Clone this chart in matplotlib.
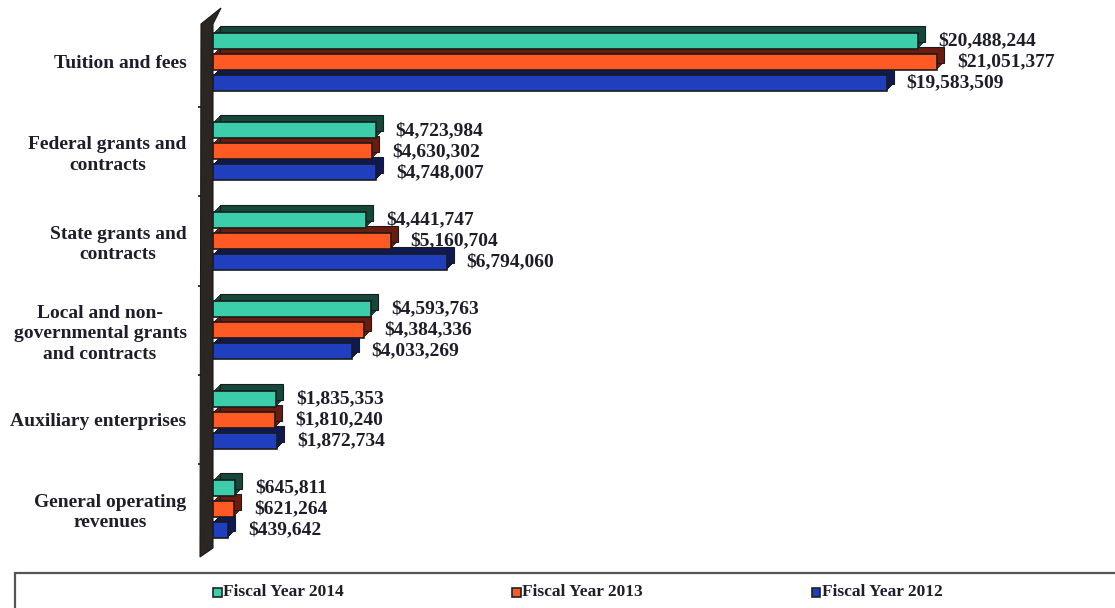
import matplotlib
matplotlib.use("Agg")
import matplotlib.pyplot as plt
import matplotlib.transforms as mtransforms
from matplotlib.patches import Polygon, Rectangle
import numpy as np

plt.rcParams['font.family'] = ['Liberation Serif', 'DejaVu Serif']
plt.rcParams['font.weight'] = 'bold'

categories = [
    "Tuition and fees",
    "Federal grants and\ncontracts",
    "State grants and\ncontracts",
    "Local and non-\ngovernmental grants\nand contracts",
    "Auxiliary enterprises",
    "General operating\nrevenues",
]
series_names = ["Fiscal Year 2014", "Fiscal Year 2013", "Fiscal Year 2012"]
fy2014 = [20488244, 4723984, 4441747, 4593763, 1835353, 645811]
fy2013 = [21051377, 4630302, 5160704, 4384336, 1810240, 621264]
fy2012 = [19583509, 4748007, 6794060, 4033269, 1872734, 439642]

front_colors = ["#3ccdaa", "#ff5a23", "#1f3fbe"]
depth_colors = ["#15473a", "#6a1c0e", "#0f1a55"]
edge_dark = "#1b1b1b"

W, H, DPI = 1115, 608, 100
fig = plt.figure(figsize=(W / DPI, H / DPI), dpi=DPI)

# axes box in pixels
ax_left, ax_right = 213, 1105
ax_top, ax_bottom = 17.3, 553.7
ax = fig.add_axes([ax_left / W, (H - ax_bottom) / H,
                   (ax_right - ax_left) / W, (ax_bottom - ax_top) / H])

px_per_million = 34.4
ax.set_xlim(0, (ax_right - ax_left) / px_per_million * 1e6)
ax.set_ylim(len(categories) - 0.5, -0.5)

y = np.arange(len(categories))
bar_h = 0.18
offsets = [-0.235, 0.0, 0.235]
series = [fy2014, fy2013, fy2012]
depth_px = 7

# draw back series first so upper bars sit in front of lower bars' extrusion
for idx in [2, 1, 0]:
    vals = series[idx]
    ypos = y + offsets[idx]
    for k in range(1, depth_px + 1):
        tr = ax.transData + mtransforms.ScaledTranslation(
            k / DPI, k / DPI, fig.dpi_scale_trans)
        bars = ax.barh(ypos, vals, height=bar_h, color=depth_colors[idx],
                       edgecolor=edge_dark if k == depth_px else "none",
                       linewidth=0.8, transform=tr, zorder=3 + (2 - idx) * 2)
        for b in bars:
            b.set_clip_on(False)
    bars = ax.barh(ypos, vals, height=bar_h, color=front_colors[idx],
                   edgecolor=edge_dark, linewidth=1.2,
                   zorder=4 + (2 - idx) * 2, label=series_names[idx])
    for v, yy in zip(vals, ypos):
        ax.annotate(f"${v:,}", xy=(v, yy), xytext=(20, 0),
                    textcoords="offset pixels", ha="left", va="center",
                    fontsize=14, fontweight="bold", color="#1e1e2a",
                    zorder=20, annotation_clip=False)

# side wall of the 3D frame
def to_axes(px, py):
    return ((px - ax_left) / (ax_right - ax_left),
            (ax_bottom - py) / (ax_bottom - ax_top))

wall_pts = [to_axes(*p) for p in
            [(201, 24), (221, 8), (213, 24), (213, 548), (200, 557)]]
ax.add_patch(Polygon(wall_pts, closed=True, transform=ax.transAxes,
                     facecolor="#2b2622", edgecolor="#1a1a1a", lw=0.8,
                     clip_on=False, zorder=2.6))

for s in ax.spines.values():
    s.set_visible(False)
ax.set_xticks([])
ax.set_yticks(y)
ax.set_yticklabels(categories, fontsize=14, fontweight="bold", color="#1e1e2a")
for lbl in ax.get_yticklabels():
    lbl.set_multialignment("center")
    lbl.set_linespacing(1.25)
ax.tick_params(axis="y", which="major", length=0, pad=19)
ax.set_yticks(np.arange(0.5, len(categories) - 1, 1), minor=True)
ax.tick_params(axis="y", which="minor", length=11, width=1.4, color="#333333")

# legend strip along the bottom
fig.patches.append(Rectangle((15 / W, -0.01), 1.2, (H - 573) / H + 0.01,
                             transform=fig.transFigure, facecolor="white",
                             edgecolor="#555555", lw=1.6, zorder=1))
leg_x = [213, 512, 812]
leg_y = (H - 592) / H
for name, fc, lx in zip(series_names, front_colors, leg_x):
    fig.patches.append(Rectangle(((lx) / W, leg_y - 4.5 / H), 8.5 / W, 9 / H,
                                 transform=fig.transFigure, facecolor=fc,
                                 edgecolor="#222222", lw=1.2, zorder=2))
    fig.text((lx + 10) / W, leg_y, name, fontsize=12.5, fontweight="bold",
             color="#1e1e2a", ha="left", va="center", zorder=3)

fig.savefig("out.png", dpi=DPI, facecolor="white")
